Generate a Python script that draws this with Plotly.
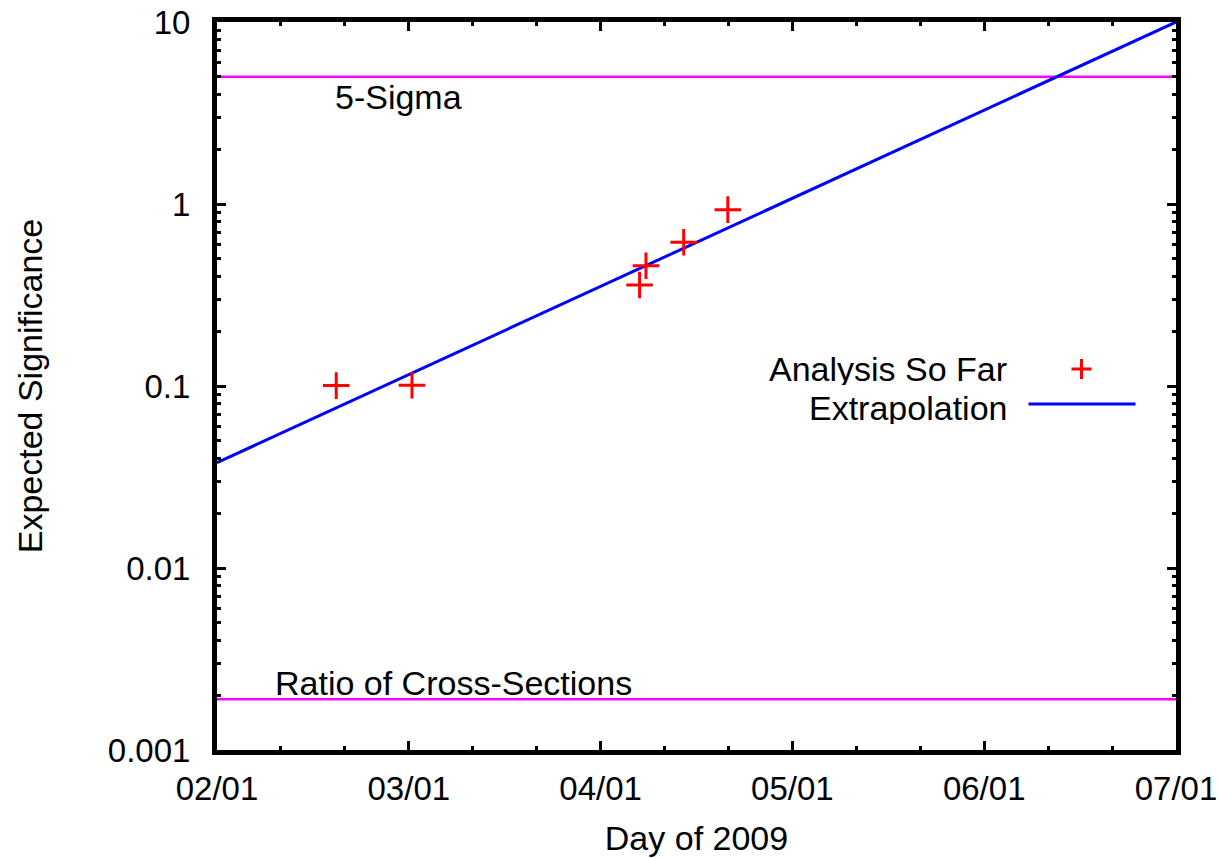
import math
import plotly.graph_objects as go

# ---- data ----
tick_days = [0, 30, 60, 90, 120, 150]
tick_labels = ["02/01", "03/01", "04/01", "05/01", "06/01", "07/01"]
y_tickvals = [0.001, 0.01, 0.1, 1, 10]
y_ticktext = ["0.001", "0.01", "0.1", "1", "10"]

analysis_days = [18.65, 30.5, 66.1, 67.1, 73.0, 79.9]
analysis_vals = [0.1005, 0.101, 0.359, 0.458, 0.616, 0.931]

extrap_days = [0, 150]
extrap_vals = [0.0379, 10]

sigma5_days = [0, 150]
sigma5_vals = [5, 5]
ratio_days = [0, 150]
ratio_vals = [0.0019, 0.0019]

FONT = "Liberation Sans, Arial, Helvetica, sans-serif"
FS = 33
FS_TXT = 34

fig = go.Figure()
fig.add_trace(go.Scatter(x=sigma5_days, y=sigma5_vals, mode="lines",
                         line=dict(color="#ff00ff", width=2.6), showlegend=False))
fig.add_trace(go.Scatter(x=ratio_days, y=ratio_vals, mode="lines",
                         line=dict(color="#ff00ff", width=2.6), showlegend=False))
fig.add_trace(go.Scatter(x=extrap_days, y=extrap_vals, mode="lines",
                         line=dict(color="#0000ff", width=3), showlegend=False))
fig.add_trace(go.Scatter(x=analysis_days, y=analysis_vals, mode="markers",
                         marker=dict(symbol="cross-thin", size=19,
                                     line=dict(color="#ff0000", width=3)),
                         showlegend=False))

# text labels (log axis: annotation y in log10 units)
fig.add_annotation(x=18.2, y=math.log10(3.88), xref="x", yref="y", text="5-Sigma",
                   showarrow=False, xanchor="left", yanchor="middle",
                   font=dict(family=FONT, size=FS_TXT, color="black"))
fig.add_annotation(x=8.8, y=math.log10(0.00234), xref="x", yref="y",
                   text="Ratio of Cross-Sections",
                   showarrow=False, xanchor="left", yanchor="middle",
                   font=dict(family=FONT, size=FS_TXT, color="black"))

# legend (gnuplot style: text right-aligned, sample to its right)
L, R, T, B = 216.5, 1175.5, 22.0, 750.0


def px(xp):
    return (xp - L) / (R - L)


def py(yp):
    return (B - yp) / (B - T)


fig.add_annotation(x=px(1008), y=py(369), xref="paper", yref="paper",
                   text="Analysis So Far", showarrow=False, xanchor="right",
                   yanchor="middle", height=32, valign="middle",
                   font=dict(family=FONT, size=FS_TXT, color="black"))
fig.add_annotation(x=px(1008), y=py(408), xref="paper", yref="paper",
                   text="Extrapolation", showarrow=False, xanchor="right",
                   yanchor="middle", height=32, valign="middle",
                   font=dict(family=FONT, size=FS_TXT, color="black"))
fig.add_shape(type="line", xref="paper", yref="paper",
              x0=px(1028), x1=px(1135), y0=py(404), y1=py(404),
              line=dict(color="#0000ff", width=3))
fig.add_shape(type="line", xref="paper", yref="paper",
              x0=px(1071), x1=px(1091), y0=py(369), y1=py(369),
              line=dict(color="#ff0000", width=3))
fig.add_shape(type="line", xref="paper", yref="paper",
              x0=px(1081), x1=px(1081), y0=py(359), y1=py(379),
              line=dict(color="#ff0000", width=3))

fig.update_layout(
    width=1219, height=858, autosize=False,
    margin=dict(l=217, r=43, t=22, b=108),
    paper_bgcolor="white", plot_bgcolor="white",
    font=dict(family=FONT, size=FS, color="black"),
    showlegend=False,
)
fig.update_xaxes(
    range=[0, 150], tickvals=tick_days, ticktext=tick_labels,
    automargin=False,
    showgrid=False, zeroline=False,
    showline=True, linecolor="black", linewidth=5, mirror="allticks",
    ticks="inside", ticklen=9, tickwidth=3, tickcolor="black",
    minor=dict(ticks="inside", ticklen=4, tickwidth=3, dtick=10, tickcolor="black", showgrid=False),
    tickfont=dict(family=FONT, size=FS), ticklabelstandoff=5,
    title=dict(text="Day of 2009", font=dict(family=FONT, size=FS_TXT), standoff=22),
)
fig.update_yaxes(
    type="log", range=[-3, 1], tickvals=y_tickvals, ticktext=y_ticktext,
    automargin=False,
    showgrid=False, zeroline=False,
    showline=True, linecolor="black", linewidth=5, mirror="allticks",
    ticks="inside", ticklen=9, tickwidth=3, tickcolor="black",
    minor=dict(ticks="inside", ticklen=4, tickwidth=3, dtick="D1", tickcolor="black", showgrid=False),
    tickfont=dict(family=FONT, size=FS), ticklabelstandoff=15,
    title=dict(text="Expected Significance", font=dict(family=FONT, size=FS_TXT), standoff=56),
)

fig.write_html("out.html")
